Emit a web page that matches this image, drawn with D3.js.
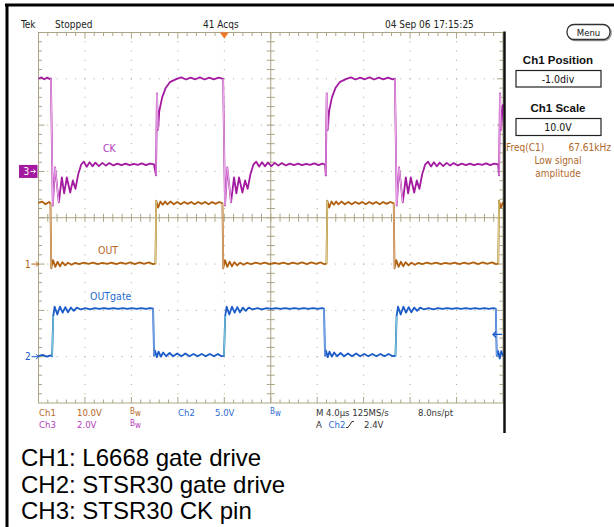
<!DOCTYPE html>
<html>
<head>
<meta charset="utf-8">
<script src="https://cdn.jsdelivr.net/npm/d3@7"></script>
<style>
body { margin: 0; background: #fff; }
.scope text { font-family: "Liberation Sans Narrow", "DejaVu Sans Condensed", "Liberation Sans", Arial, sans-serif; }
text.caption { font-family: "Liberation Sans", Arial, Helvetica, sans-serif; }
</style>
</head>
<body>
<div class="chart"></div>
<script>
const w = 614;
const h = 527;

// time in us (0 = trigger), values in volts
const ckTrace = [
  [-16.00, 4.00], [-15.75, 4.06], [-15.50, 3.98], [-15.25, 4.05], [-15.00, 3.98], [-14.93, 4.02],
  [-14.77, -1.47], [-14.57, 0.17], [-14.25, -1.34], [-13.99, -0.26], [-13.79, -0.95], [-13.56, -0.26], [-13.27, -0.91], [-13.04, -0.39], [-12.82, -0.75], [-12.57, -0.10], [-12.32, 0.30],
  [-12.10, 0.42], [-11.85, 0.20], [-11.60, 0.40], [-11.35, 0.22], [-11.10, 0.38], [-10.80, 0.23], [-10.50, 0.37], [-10.20, 0.25], [-9.90, 0.36], [-9.55, 0.26], [-9.20, 0.34], [-8.85, 0.27], [-8.50, 0.34], [-8.15, 0.27], [-7.80, 0.33], [-7.45, 0.28], [-7.10, 0.35], [-6.75, 0.27], [-6.40, 0.34], [-6.05, 0.30],
  [-5.88, -0.17], [-5.80, 3.37], [-5.70, 1.80], [-5.60, 2.60], [-5.35, 3.20], [-5.05, 3.60], [-4.65, 3.87], [-4.10, 4.00],
  [-3.70, 4.06], [-3.30, 3.97], [-2.90, 4.05], [-2.50, 3.98], [-2.10, 4.06], [-1.70, 3.97], [-1.30, 4.05], [-0.90, 3.98], [-0.50, 4.05], [-0.10, 4.00],
  [0.06, -1.47], [0.26, 0.17], [0.58, -1.34], [0.84, -0.26], [1.04, -0.95], [1.27, -0.26], [1.56, -0.91], [1.79, -0.39], [2.01, -0.75], [2.26, -0.10], [2.51, 0.30],
  [2.75, 0.42], [3.00, 0.21], [3.25, 0.40], [3.50, 0.22], [3.75, 0.38], [4.05, 0.23], [4.35, 0.37], [4.65, 0.25], [4.95, 0.36], [5.30, 0.26], [5.65, 0.34], [6.00, 0.27], [6.35, 0.34], [6.70, 0.27], [7.05, 0.33], [7.40, 0.28], [7.75, 0.35], [8.10, 0.27], [8.45, 0.34], [8.68, 0.30],
  [8.74, -0.17], [8.82, 3.37], [8.92, 1.80], [9.02, 2.60], [9.27, 3.20], [9.57, 3.60], [9.97, 3.87], [10.52, 4.00],
  [10.90, 4.06], [11.30, 3.97], [11.70, 4.05], [12.10, 3.98], [12.50, 4.06], [12.90, 3.97], [13.30, 4.05], [13.70, 3.98], [14.10, 4.05], [14.50, 3.98], [14.69, 4.01],
  [14.85, -1.47], [15.05, 0.17], [15.37, -1.34], [15.63, -0.26], [15.83, -0.95], [16.06, -0.26], [16.35, -0.91], [16.58, -0.39], [16.80, -0.75], [17.05, -0.10], [17.30, 0.30],
  [17.55, 0.42], [17.80, 0.21], [18.05, 0.40], [18.30, 0.22], [18.55, 0.38], [18.85, 0.23], [19.15, 0.37], [19.45, 0.25], [19.75, 0.36], [20.10, 0.26], [20.45, 0.34], [20.80, 0.27], [21.15, 0.34], [21.50, 0.27], [21.85, 0.33], [22.20, 0.28], [22.55, 0.35], [22.90, 0.27], [23.25, 0.34], [23.58, 0.30],
  [23.66, -0.17], [23.74, 3.37], [23.84, 1.80], [23.94, 2.60], [24.00, 2.90]
];

const outTrace = [
  [-16.00, 13.2], [-15.70, 13.5], [-15.40, 12.9], [-15.10, 13.4], [-14.97, 13.1],
  [-14.90, -0.9], [-14.75, 0.85], [-14.55, -0.6], [-14.35, 0.5], [-14.15, -0.5], [-13.95, 0.4], [-13.70, -0.3], [-13.45, 0.3], [-13.15, -0.15], [-12.85, 0.25],
  [-12.50, 0.0], [-12.10, 0.3], [-11.70, 0.05], [-11.30, 0.3], [-10.90, 0.0], [-10.50, 0.25], [-10.10, 0.05], [-9.70, 0.3], [-9.30, 0.0], [-8.90, 0.3], [-8.50, 0.05], [-8.10, 0.35], [-7.70, 0.0], [-7.30, 0.35], [-6.90, 0.05], [-6.50, 0.35], [-6.15, 0.0], [-5.93, 0.1],
  [-5.86, 13.7], [-5.70, 12.2], [-5.50, 13.5], [-5.30, 12.8], [-5.10, 13.5], [-4.90, 12.9], [-4.65, 13.5], [-4.35, 12.9], [-4.05, 13.4], [-3.75, 12.9], [-3.45, 13.4], [-3.15, 13.0], [-2.85, 13.4], [-2.55, 12.9], [-2.25, 13.4], [-1.95, 13.0], [-1.65, 13.4], [-1.35, 12.9], [-1.05, 13.4], [-0.75, 13.0], [-0.45, 13.4], [-0.16, 13.1],
  [-0.09, -0.9], [0.06, 0.85], [0.26, -0.6], [0.46, 0.5], [0.66, -0.5], [0.86, 0.4], [1.11, -0.3], [1.36, 0.3], [1.66, -0.15], [1.96, 0.25],
  [2.30, 0.0], [2.70, 0.3], [3.10, 0.05], [3.50, 0.3], [3.90, 0.0], [4.30, 0.25], [4.70, 0.05], [5.10, 0.3], [5.50, 0.0], [5.90, 0.3], [6.30, 0.05], [6.70, 0.35], [7.10, 0.0], [7.50, 0.35], [7.90, 0.05], [8.30, 0.35], [8.60, 0.0], [8.80, 0.1],
  [8.87, 13.7], [9.03, 12.2], [9.23, 13.5], [9.43, 12.8], [9.63, 13.5], [9.83, 12.9], [10.08, 13.5], [10.38, 12.9], [10.68, 13.4], [10.98, 12.9], [11.28, 13.4], [11.58, 13.0], [11.88, 13.4], [12.18, 12.9], [12.48, 13.4], [12.78, 13.0], [13.08, 13.4], [13.38, 12.9], [13.68, 13.4], [13.98, 13.0], [14.28, 13.4], [14.59, 13.1],
  [14.66, -0.9], [14.81, 0.85], [15.01, -0.6], [15.21, 0.5], [15.41, -0.5], [15.61, 0.4], [15.86, -0.3], [16.11, 0.3], [16.41, -0.15], [16.71, 0.25],
  [17.05, 0.0], [17.45, 0.3], [17.85, 0.05], [18.25, 0.3], [18.65, 0.0], [19.05, 0.25], [19.45, 0.05], [19.85, 0.3], [20.25, 0.0], [20.65, 0.3], [21.05, 0.05], [21.45, 0.35], [21.85, 0.0], [22.25, 0.35], [22.65, 0.05], [23.05, 0.35], [23.40, 0.0], [23.59, 0.1],
  [23.66, 13.7], [23.82, 12.2], [24.00, 13.4]
];

const gateTrace = [
  [-16.00, 0.05], [-15.65, 0.2], [-15.30, 0.0], [-14.95, 0.15], [-14.83, 0.05],
  [-14.73, 4.4], [-14.61, 5.4], [-14.38, 4.55], [-14.15, 5.4], [-13.92, 4.75], [-13.69, 5.35], [-13.46, 4.8], [-13.21, 5.3], [-12.96, 4.95], [-12.71, 5.3],
  [-12.35, 5.1], [-11.95, 5.25], [-11.55, 5.12], [-11.15, 5.25], [-10.75, 5.15], [-10.35, 5.25], [-9.95, 5.15], [-9.55, 5.25], [-9.15, 5.15], [-8.75, 5.25], [-8.35, 5.15], [-7.95, 5.25], [-7.55, 5.17], [-7.15, 5.25], [-6.75, 5.17], [-6.40, 5.25], [-6.13, 5.2],
  [-6.05, 0.1], [-5.96, 0.65], [-5.81, -0.05], [-5.66, 0.55], [-5.46, 0.0], [-5.26, 0.45], [-5.01, 0.05], [-4.71, 0.4], [-4.41, 0.05],
  [-4.05, 0.35], [-3.70, 0.05], [-3.35, 0.35], [-3.00, 0.05], [-2.65, 0.3], [-2.30, 0.05], [-1.95, 0.3], [-1.60, 0.05], [-1.25, 0.3], [-0.90, 0.05], [-0.55, 0.3], [-0.25, 0.05], [-0.03, 0.1],
  [0.08, 4.4], [0.20, 5.4], [0.43, 4.55], [0.66, 5.4], [0.89, 4.75], [1.12, 5.35], [1.35, 4.8], [1.60, 5.3], [1.85, 4.95], [2.10, 5.3],
  [2.45, 5.1], [2.85, 5.25], [3.25, 5.12], [3.65, 5.25], [4.05, 5.15], [4.45, 5.25], [4.85, 5.15], [5.25, 5.25], [5.65, 5.15], [6.05, 5.25], [6.45, 5.15], [6.85, 5.25], [7.25, 5.17], [7.65, 5.25], [8.05, 5.17], [8.40, 5.25], [8.59, 5.2],
  [8.67, 0.1], [8.76, 0.65], [8.91, -0.05], [9.06, 0.55], [9.26, 0.0], [9.46, 0.45], [9.71, 0.05], [10.01, 0.4], [10.31, 0.05],
  [10.65, 0.35], [11.00, 0.05], [11.35, 0.35], [11.70, 0.05], [12.05, 0.3], [12.40, 0.05], [12.75, 0.3], [13.10, 0.05], [13.45, 0.3], [13.80, 0.05], [14.15, 0.3], [14.50, 0.05], [14.74, 0.1],
  [14.84, 4.4], [14.96, 5.4], [15.19, 4.55], [15.42, 5.4], [15.65, 4.75], [15.88, 5.35], [16.11, 4.8], [16.36, 5.3], [16.61, 4.95], [16.86, 5.3],
  [17.20, 5.1], [17.60, 5.25], [18.00, 5.12], [18.40, 5.25], [18.80, 5.15], [19.20, 5.25], [19.60, 5.15], [20.00, 5.25], [20.40, 5.15], [20.80, 5.25], [21.20, 5.15], [21.60, 5.25], [22.00, 5.17], [22.40, 5.25], [22.80, 5.17], [23.15, 5.25], [23.38, 5.2],
  [23.46, 0.1], [23.58, 0.6], [23.72, -0.2], [23.85, 0.6], [24.00, 0.1]
];

const timeRange = [-16, 24];   // 10 div x 4.0us
const divRange = [-4, 4];      // 8 vertical divisions
const triggerLevel = 2.4;      // Ch2 rising
const headerTexts = ["Tek", "Stopped", "41 Acqs", "04 Sep 06 17:15:25"];
const captions = ["CH1: L6668 gate drive", "CH2: STSR30 gate drive", "CH3: STSR30 CK pin"];

const channels = [
  {num: "1", vdiv: 10, pos: -1, label: "OUT", data: outTrace,
   color: "#b0600f", rise: "#d3cf86", fall: "#d8ab7c", text: "#b5661f"},
  {num: "2", vdiv: 5, pos: -3, label: "OUTgate", data: gateTrace,
   color: "#1a5bc8", rise: "#72c6d2", fall: "#76a2e2", text: "#2b6bd3"},
  {num: "3", vdiv: 2, pos: 1, label: "CK", data: ckTrace,
   color: "#a3199f", rise: "#de8ede", fall: "#e8a8e8", text: "#b23cbc"}
];

const gLeft = 38.5, gRight = 503, gTop = 32.5, gBottom = 403;
const grid = "#aaa584";
const narrow = "'Liberation Sans Narrow','DejaVu Sans Condensed','Liberation Sans',sans-serif";

const svg = d3.select(".chart").append("svg")
    .attr("width", w)
    .attr("height", h);

svg.append("rect").attr("width", w).attr("height", h).attr("fill", "#fff");

const x = d3.scaleLinear().domain(timeRange).range([gLeft, gRight]);
const yDiv = d3.scaleLinear().domain(divRange).range([gBottom, gTop]);
const gx = d3.scaleLinear().domain([0, 10]).range([gLeft, gRight]);
const gy = d3.scaleLinear().domain([0, 8]).range([gTop, gBottom]);

const yFor = (ch) => (v) => yDiv(ch.pos + v / ch.vdiv);

// graticule
const gridG = svg.append("g");

gridG.append("rect")
    .attr("x", gLeft).attr("y", gTop)
    .attr("width", gRight - gLeft).attr("height", gBottom - gTop)
    .attr("fill", "none").attr("stroke", grid).attr("stroke-width", 1);

const minorX = d3.range(1, 50);
const minorY = d3.range(1, 40);

// dotted division lines
d3.range(1, 10).filter(i => i !== 5).forEach(i => {
  gridG.selectAll(null).data(minorY).enter().append("rect")
      .attr("x", gx(i) - 0.5).attr("y", d => gy(d / 5) - 0.5)
      .attr("width", 1).attr("height", 1).attr("fill", grid);
});
d3.range(1, 8).filter(i => i !== 4).forEach(i => {
  gridG.selectAll(null).data(minorX).enter().append("rect")
      .attr("x", d => gx(d / 5) - 0.5).attr("y", gy(i) - 0.5)
      .attr("width", 1).attr("height", 1).attr("fill", grid);
});

// center cross
gridG.append("line").attr("x1", gx(5)).attr("x2", gx(5)).attr("y1", gTop).attr("y2", gBottom)
    .attr("stroke", grid);
gridG.append("line").attr("x1", gLeft).attr("x2", gRight).attr("y1", gy(4)).attr("y2", gy(4))
    .attr("stroke", grid);

const tickLen = d => (d % 5 === 0 ? 6 : 3.5);

gridG.selectAll(".tx").data(minorX).enter().append("path")
    .attr("stroke", grid)
    .attr("d", d => {
      const px = gx(d / 5);
      return `M${px},${gTop}v${tickLen(d)}M${px},${gBottom}v${-tickLen(d)}M${px},${gy(4) - 4}v8`;
    });
gridG.selectAll(".ty").data(minorY).enter().append("path")
    .attr("stroke", grid)
    .attr("d", d => {
      const py = gy(d / 5);
      return `M${gLeft},${py}h${tickLen(d)}M${gRight},${py}h${-tickLen(d)}M${gx(5) - 4},${py}h8`;
    });

// traces
const line = d3.line();

channels.forEach(ch => {
  const y = yFor(ch);
  const pts = ch.data.map(d => [x(d[0]), y(d[1])]);

  svg.append("path")
      .attr("d", line(pts))
      .attr("fill", "none")
      .attr("stroke", ch.color)
      .attr("stroke-width", 1.8)
      .attr("stroke-linejoin", "round");

  const edges = d3.pairs(pts).filter(p => Math.abs(p[1][1] - p[0][1]) > 30);
  svg.selectAll(null).data(edges).enter().append("line")
      .attr("x1", d => d[0][0]).attr("y1", d => d[0][1])
      .attr("x2", d => d[1][0]).attr("y2", d => d[1][1])
      .attr("stroke", d => (d[1][1] < d[0][1] ? ch.rise : ch.fall))
      .attr("stroke-width", 1.3);
});

// trace labels
const labelPos = {"1": [98, 254], "2": [90, 300], "3": [103, 152]};
channels.forEach(ch => {
  svg.append("text")
      .attr("x", labelPos[ch.num][0]).attr("y", labelPos[ch.num][1])
      .attr("fill", ch.text)
      .style("font-size", "10.5px")
      .style("font-family", narrow)
      .text(ch.label);
});

// ground markers
channels.forEach(ch => {
  const gy0 = yFor(ch)(0);
  const g = svg.append("g").style("font-family", narrow);
  if (ch.num === "3") {
    g.append("rect").attr("x", 19).attr("y", gy0 - 6.5).attr("width", 18.5).attr("height", 13)
        .attr("fill", ch.color);
    g.append("text").attr("x", 23.5).attr("y", gy0 + 3.5).attr("fill", "#fff")
        .style("font-size", "10px").text(ch.num);
    g.append("path").attr("d", `M30.5,${gy0}h5m-2,-2l2,2l-2,2`).attr("stroke", "#fff")
        .attr("fill", "none");
  } else {
    g.append("text").attr("x", 25).attr("y", gy0 + 3.5).attr("fill", ch.color)
        .style("font-size", "10px").text(ch.num);
    g.append("path").attr("d", `M31.5,${gy0}h7m-2.5,-2.5l2.5,2.5l-2.5,2.5`).attr("stroke", ch.color)
        .attr("fill", "none");
  }
});

// trigger position and level
const tx0 = x(0);
svg.append("path")
    .attr("d", `M${tx0 - 4.5},${gTop}L${tx0 + 4.5},${gTop}L${tx0},${gTop + 6}Z`)
    .attr("fill", "#f07527");

const ty = yFor(channels[1])(triggerLevel);
svg.append("path")
    .attr("d", `M493,${ty}h9M496,${ty - 3}l-3,3l3,3`)
    .attr("stroke", channels[1].color).attr("stroke-width", 1.3).attr("fill", "none");

// frame
svg.append("line").attr("x1", 5).attr("x2", w).attr("y1", 5).attr("y2", 5)
    .attr("stroke", "#000").attr("stroke-width", 3);
svg.append("line").attr("x1", 7).attr("x2", 7).attr("y1", 4).attr("y2", h)
    .attr("stroke", "#000").attr("stroke-width", 3);
svg.append("line").attr("x1", 504.5).attr("x2", 504.5).attr("y1", gTop - 1).attr("y2", 433)
    .attr("stroke", "#111").attr("stroke-width", 2.5);

// header
const header = svg.append("g").attr("class", "scope").attr("fill", "#222").style("font-size", "10px");
const headerX = [21, 55, 203, 385];
header.selectAll("text").data(headerTexts).enter().append("text")
    .attr("x", (d, i) => headerX[i]).attr("y", 28)
    .text(d => d);

// right panel
const panel = svg.append("g").attr("class", "scope");
panel.append("rect").attr("x", 568).attr("y", 25.5).attr("width", 43).attr("height", 15).attr("rx", 7)
    .attr("fill", "none").attr("stroke", "#999").attr("stroke-width", 1.5);
panel.append("rect").attr("x", 567).attr("y", 24.5).attr("width", 43).attr("height", 15).attr("rx", 7)
    .attr("fill", "#fff").attr("stroke", "#333").attr("stroke-width", 1.3);
panel.append("text").attr("x", 588.5).attr("y", 35.5).attr("text-anchor", "middle")
    .style("font-size", "9.5px").attr("fill", "#111").text("Menu");

panel.append("text").attr("x", 558).attr("y", 64).attr("text-anchor", "middle")
    .style("font-family", "'Liberation Sans',Arial,sans-serif").style("font-weight", "bold")
    .style("font-size", "11.5px").attr("fill", "#111").text("Ch1 Position");
panel.append("rect").attr("x", 516).attr("y", 70.5).attr("width", 85).attr("height", 16.5)
    .attr("fill", "#fff").attr("stroke", "#222").attr("stroke-width", 1.2);
panel.append("text").attr("x", 558).attr("y", 83).attr("text-anchor", "middle")
    .style("font-size", "10.5px").attr("fill", "#111").text("-1.0div");

panel.append("text").attr("x", 558).attr("y", 112).attr("text-anchor", "middle")
    .style("font-family", "'Liberation Sans',Arial,sans-serif").style("font-weight", "bold")
    .style("font-size", "11.5px").attr("fill", "#111").text("Ch1 Scale");
panel.append("rect").attr("x", 516).attr("y", 118.5).attr("width", 85).attr("height", 17)
    .attr("fill", "#fff").attr("stroke", "#222").attr("stroke-width", 1.2);
panel.append("text").attr("x", 558).attr("y", 131).attr("text-anchor", "middle")
    .style("font-size", "10.5px").attr("fill", "#111").text("10.0V");

const brown = "#b0682a";
panel.append("text").attr("x", 506).attr("y", 151).style("font-size", "10px").attr("fill", brown).text("Freq(C1)");
panel.append("text").attr("x", 611).attr("y", 151).attr("text-anchor", "end").style("font-size", "10px").attr("fill", brown).text("67.61kHz");
panel.append("text").attr("x", 558).attr("y", 163.5).attr("text-anchor", "middle").style("font-size", "10px").attr("fill", brown).text("Low signal");
panel.append("text").attr("x", 558).attr("y", 177).attr("text-anchor", "middle").style("font-size", "10px").attr("fill", brown).text("amplitude");

// bottom status lines
const status = svg.append("g").attr("class", "scope").style("font-size", "9.5px");
const c1 = channels[0], c2 = channels[1], c3 = channels[2];
const bw = (g, px, py, col) => {
  const t = g.append("text").attr("x", px).attr("y", py).attr("fill", col);
  t.append("tspan").style("font-size", "8px").text("B");
  t.append("tspan").attr("dy", 1.5).style("font-size", "8px").text("w");
};
status.append("text").attr("x", 39).attr("y", 416).attr("fill", c1.text).text("Ch1");
status.append("text").attr("x", 77).attr("y", 416).attr("fill", c1.text).text("10.0V");
bw(status, 130, 414, c1.text);
status.append("text").attr("x", 178).attr("y", 416).attr("fill", c2.text).text("Ch2");
status.append("text").attr("x", 215).attr("y", 416).attr("fill", c2.text).text("5.0V");
bw(status, 270, 414, c2.text);
status.append("text").attr("x", 316).attr("y", 416).attr("fill", "#333").text("M 4.0µs 125MS/s");
status.append("text").attr("x", 418).attr("y", 416).attr("fill", "#333").text("8.0ns/pt");

status.append("text").attr("x", 39).attr("y", 427.5).attr("fill", c3.text).text("Ch3");
status.append("text").attr("x", 77).attr("y", 427.5).attr("fill", c3.text).text("2.0V");
bw(status, 130, 426, c3.text);
status.append("text").attr("x", 316).attr("y", 427.5).attr("fill", "#333").text("A");
status.append("text").attr("x", 328.5).attr("y", 427.5).attr("fill", c2.text).text("Ch2");
status.append("path").attr("d", "M346,427.5h2l4,-6h2").attr("stroke", "#333").attr("fill", "none");
status.append("text").attr("x", 364).attr("y", 427.5).attr("fill", "#333").text("2.4V");

// captions
svg.selectAll(".caption").data(captions).enter().append("text")
    .attr("class", "caption")
    .attr("x", 21)
    .attr("y", (d, i) => 466 + i * 26.5)
    .attr("fill", "#000")
    .style("font-size", "24px")
    .text(d => d);
</script>
</body>
</html>
